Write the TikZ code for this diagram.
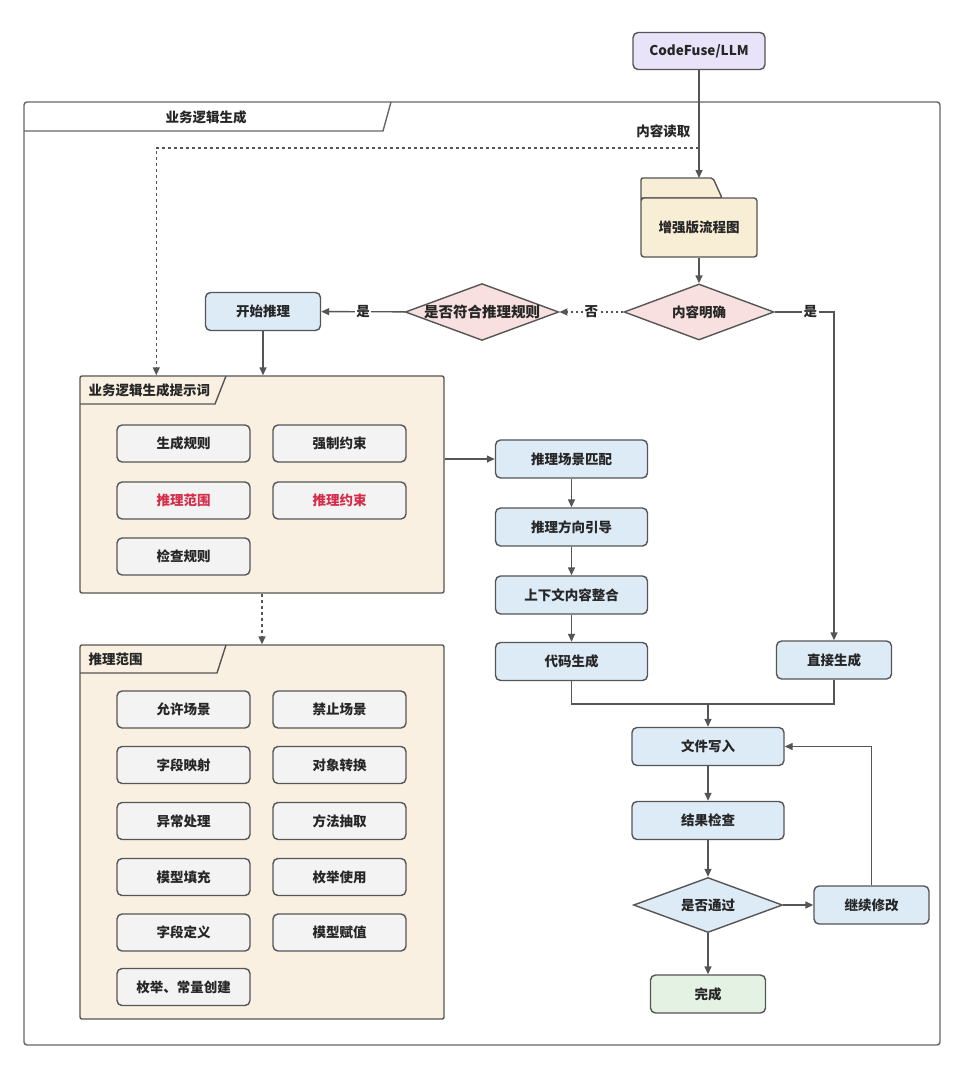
\documentclass[tikz,border=0pt]{standalone}
\usepackage{fontspec}
\setmainfont{Noto Sans CJK SC}
\usetikzlibrary{arrows.meta,shapes.geometric,calc}
\definecolor{ln}{HTML}{555555}
\definecolor{frm}{HTML}{666666}
\definecolor{lav}{HTML}{E8E3F8}
\definecolor{fold}{HTML}{F8EDD5}
\definecolor{pink}{HTML}{F8E0E0}
\definecolor{blu}{HTML}{DDEBF7}
\definecolor{cream}{HTML}{F9F0E1}
\definecolor{gry}{HTML}{F3F3F3}
\definecolor{grn}{HTML}{E3F2E3}
\definecolor{redt}{HTML}{D42C4A}
\tikzset{
  txt/.style={font=\fontsize{13.5}{15}\selectfont\bfseries, text=black!85},
  base/.style={txt, draw=ln, line width=1.4pt, rounded corners=5pt, inner sep=0pt, align=center},
  bbox/.style={base, fill=blu, minimum width=152pt, minimum height=38pt},
  sbox/.style={base, fill=blu, minimum width=115pt, minimum height=38pt},
  gbox/.style={base, fill=gry, minimum width=133pt, minimum height=37pt},
  dia/.style={txt, diamond, draw=ln, line width=1.4pt, inner sep=0pt, aspect=2.7, minimum width=150pt, minimum height=56pt},
  cont/.style={draw=ln, line width=1.4pt, rounded corners=2pt, fill=cream, inner sep=0pt},
  conn/.style={draw=ln, line width=1.4pt},
  arr/.style={conn, -{Triangle[length=8pt,width=7pt]}},
  darr/.style={arr, dash pattern=on 3pt off 3pt},
  lab/.style={txt, fill=white, inner sep=1.5pt},
}
\begin{document}
\begin{tikzpicture}[x=1pt,y=-1pt]
\useasboundingbox[fill=white] (0,0) rectangle (960,1068);

% outer frame
\draw[frm, line width=1.4pt, rounded corners=3pt] (24,102) rectangle (940,1045);
\draw[frm, line width=1.4pt] (24,131) -- (383,131) -- (391,102);
\node[txt] (fr) at (206,117) {业务逻辑生成};

% top
\node[base, fill=lav, minimum width=132pt, minimum height=37pt] (llm) at (699,51) {CodeFuse/LLM};
\coordinate (foldtop) at (699,178);
\coordinate (rd) at (699,148);

% folder
\draw[ln, line width=1.4pt, fill=fold, rounded corners=2pt] (641,200) -- (641,178) -- (713,178) -- (722,198) -- (641,198);
\node[base, fill=fold, rounded corners=3pt, minimum width=116pt, minimum height=59pt] (fd) at (699,227.5) {增强版流程图};

\draw[arr] (llm) -- (foldtop);
\node[txt, anchor=east] (rdl) at (694,131) {内容读取};

% decisions
\node[dia, fill=pink] (d1) at (699,312) {内容明确};
\node[dia, fill=pink, font=\fontsize{14.5}{16}\selectfont\bfseries, minimum width=152pt] (d2) at (482,312) {是否符合推理规则};
\node[sbox] (ks) at (263,311.5) {开始推理};

\draw[arr] (fd) -- (d1);
\draw[darr, dash pattern=on 2pt off 3pt] (d1) -- node[lab] {否} (d2);
\draw[arr] (d2) -- node[lab] {是} (ks);

% container 1
\node[cont, minimum width=364pt, minimum height=217pt] (p1) at (262,484.5) {};
\draw[ln, line width=1.4pt] (80,404) -- (215,404) -- (226,376);
\node[txt, anchor=west] (p1t) at (85,390) {业务逻辑生成提示词};
\node[gbox] (g1) at (183.5,443.5) {生成规则};
\node[gbox] (g2) at (339.5,443.5) {强制约束};
\node[gbox, text=redt] (g3) at (183.5,500.5) {推理范围};
\node[gbox, text=redt] (g4) at (339.5,500.5) {推理约束};
\node[gbox] (g5) at (183.5,556.5) {检查规则};

\draw[arr] (ks) -- (p1.north -| ks);
\draw[darr] (rd) -| ([xshift=77pt]p1.north west);

% container 2
\node[cont, minimum width=364pt, minimum height=374pt] (p2) at (262,832) {};
\draw[ln, line width=1.4pt] (80,673) -- (217,673) -- (226,645);
\node[txt, anchor=west] (p2t) at (85,659) {推理范围};
\node[gbox] (h1) at (183.5,709.5) {允许场景};
\node[gbox] (h2) at (339.5,709.5) {禁止场景};
\node[gbox] (h3) at (183.5,765) {字段映射};
\node[gbox] (h4) at (339.5,765) {对象转换};
\node[gbox] (h5) at (183.5,821) {异常处理};
\node[gbox] (h6) at (339.5,821) {方法抽取};
\node[gbox] (h7) at (183.5,877) {模型填充};
\node[gbox] (h8) at (339.5,877) {枚举使用};
\node[gbox] (h9) at (183.5,932.5) {字段定义};
\node[gbox] (h10) at (339.5,932.5) {模型赋值};
\node[gbox] (h11) at (183.5,987) {枚举、常量创建};

\draw[darr] (p1.south) -- (p2.north);

% middle chain
\node[bbox] (m1) at (571.5,459) {推理场景匹配};
\node[bbox] (m2) at (571.5,527) {推理方向引导};
\node[bbox] (m3) at (571.5,595) {上下文内容整合};
\node[bbox] (m4) at (571.5,661.5) {代码生成};
\node[sbox] (zj) at (834,660) {直接生成};

\draw[arr] (p1.east |- m1) -- (m1);
\draw[arr] (m1) -- (m2);
\draw[arr] (m2) -- (m3);
\draw[arr] (m3) -- (m4);
\draw[arr] (d1.east) -| node[lab, pos=0.3] {是} (zj.north);

% bottom
\node[bbox] (fw) at (708,746.5) {文件写入};
\node[bbox] (rc) at (708,820.5) {结果检查};
\node[dia, fill=blu, minimum width=149pt, minimum height=55pt] (ps) at (708,905) {是否通过};
\node[sbox] (xg) at (871.5,905) {继续修改};
\node[sbox, fill=grn] (dn) at (708,994) {完成};

\coordinate (jn) at (708,704);
\draw[conn] (m4.south) |- (jn) -| (zj.south);
\draw[arr] (jn) -- (fw);
\draw[arr] (fw) -- (rc);
\draw[arr] (rc) -- (ps);
\draw[arr] (ps) -- (dn);
\draw[arr] (ps) -- (xg);
\draw[arr] (xg.north) |- (fw.east);
\end{tikzpicture}
\end{document}
